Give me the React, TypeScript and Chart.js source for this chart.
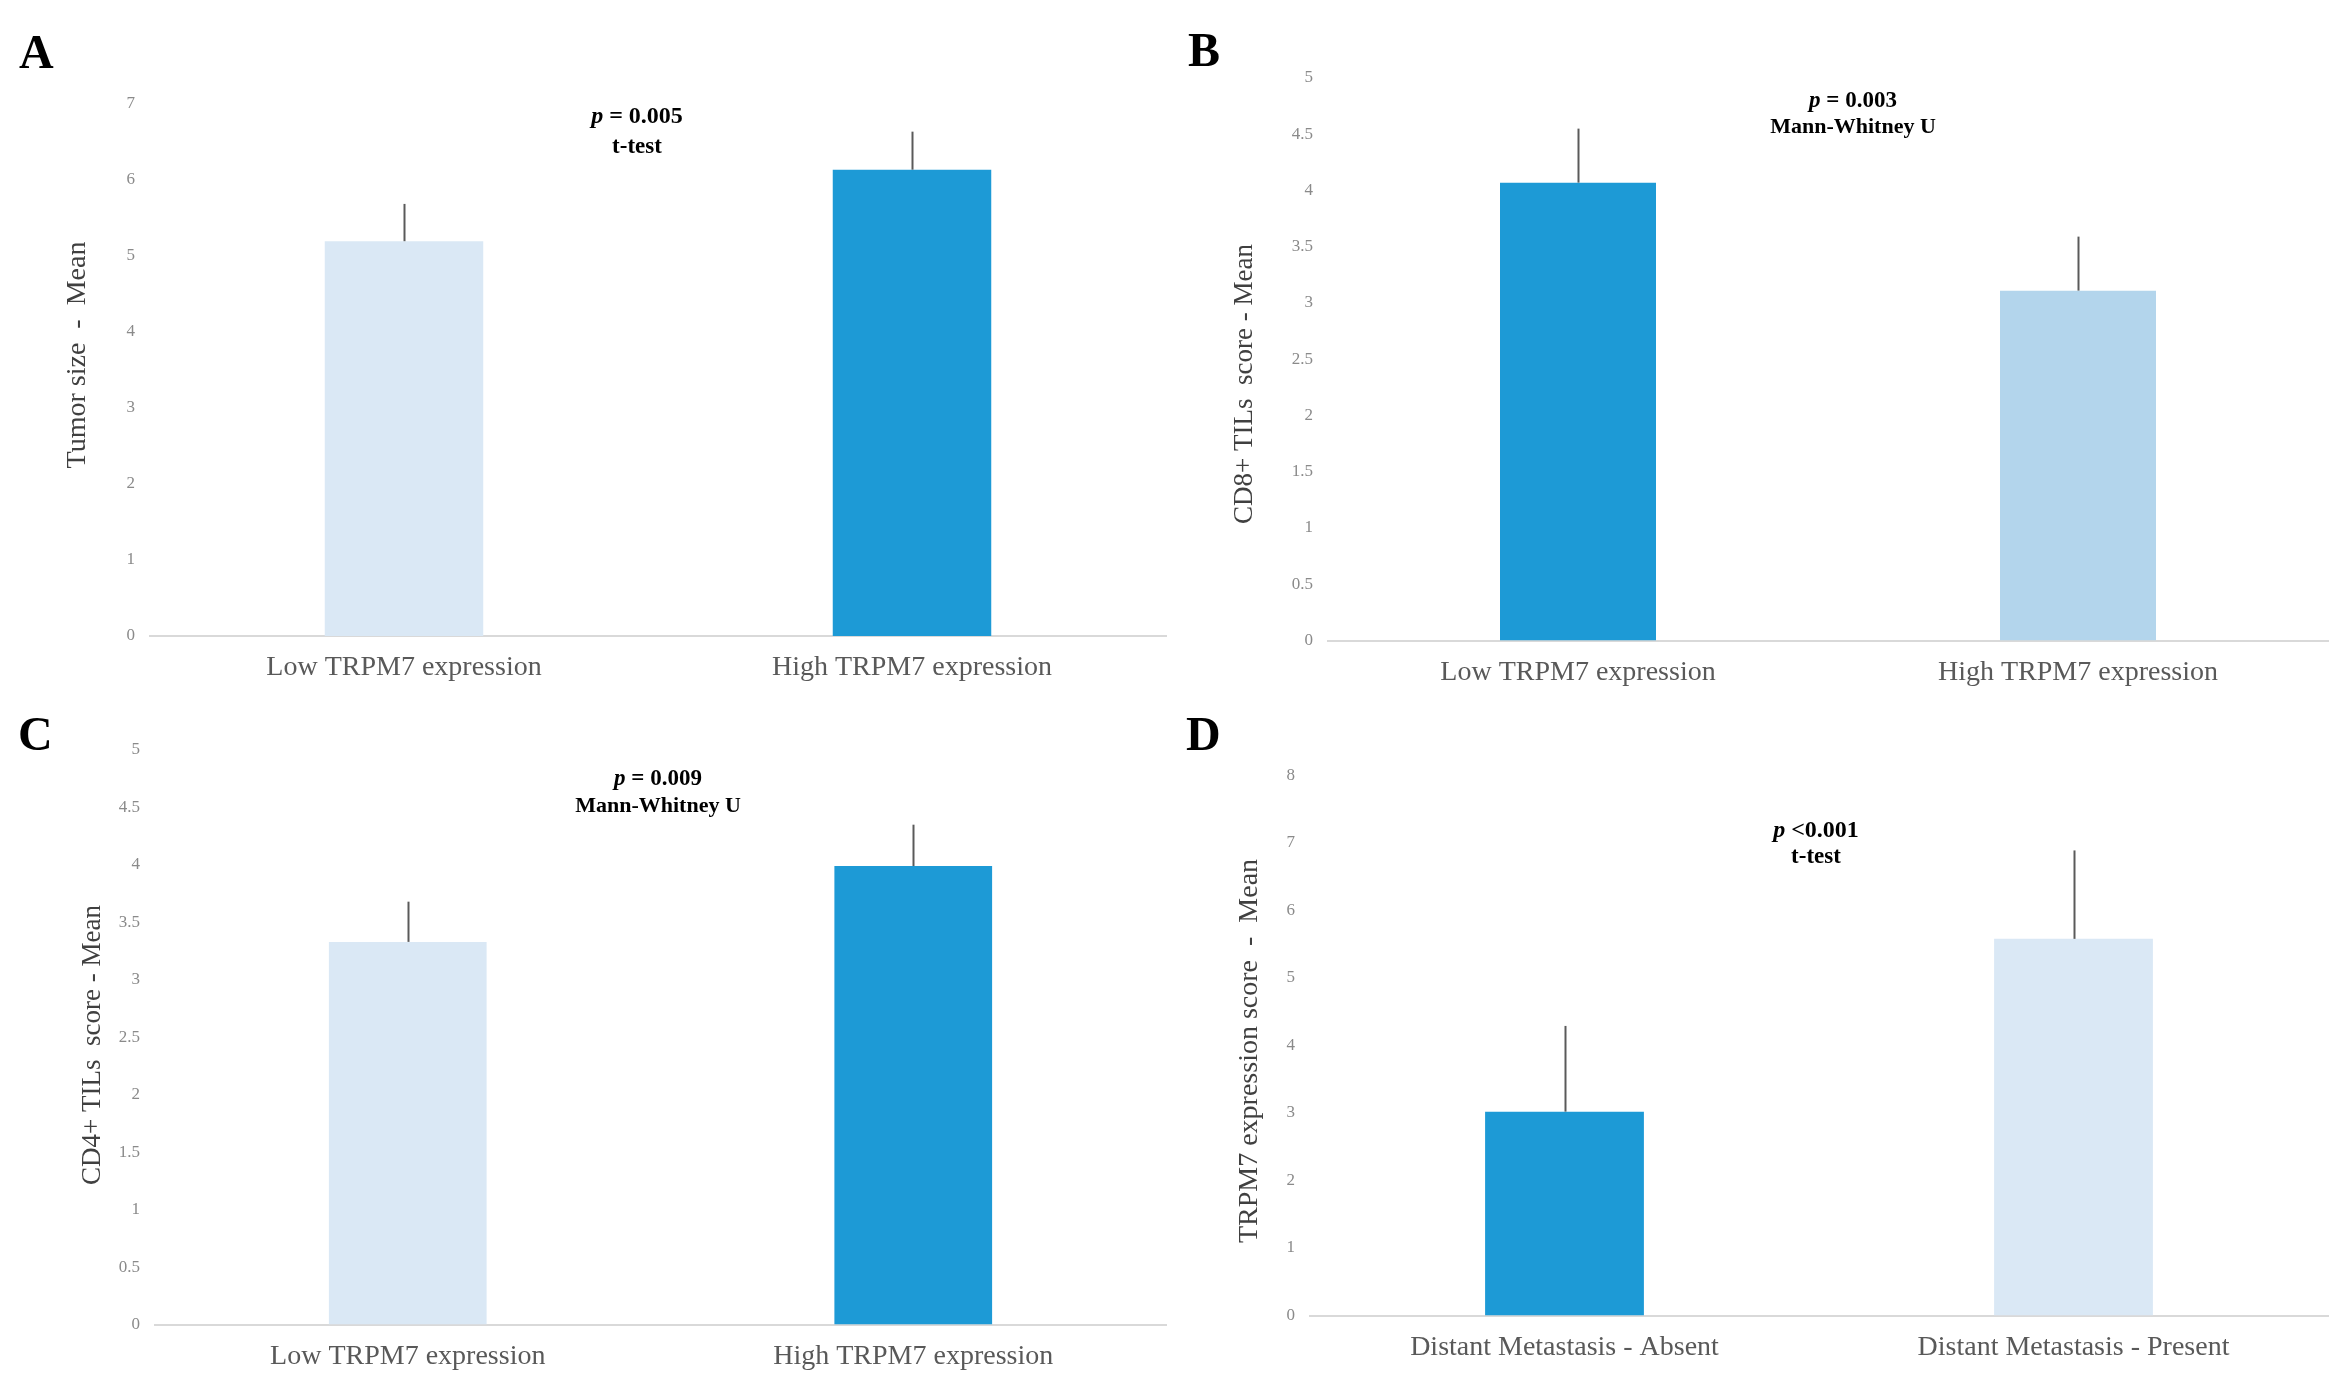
import React, { useEffect, useRef } from "react";
import { Chart, registerables } from "chart.js";

Chart.register(...registerables);

const FONT = "'Liberation Serif', 'Times New Roman', serif";

// ---------- data ----------
const trpm7Categories = ["Low TRPM7 expression", "High TRPM7 expression"];
const metastasisCategories = ["Distant Metastasis - Absent", "Distant Metastasis - Present"];

const tumorSizeMean = [5.19, 6.13];
const tumorSizeError = [0.49, 0.5];

const cd8Mean = [4.07, 3.11];
const cd8Error = [0.48, 0.48];

const cd4Mean = [3.33, 3.99];
const cd4Error = [0.35, 0.36];

const trpm7ScoreMean = [3.02, 5.58];
const trpm7ScoreError = [1.27, 1.31];

const yMaxes = [7, 5, 5, 8];
const ySteps = [1, 0.5, 0.5, 1];

const pValues = ["p = 0.005", "p = 0.003", "p = 0.009", "p <0.001"];
const testNames = ["t-test", "Mann-Whitney U", "Mann-Whitney U", "t-test"];
const yTitles = [
  "Tumor size  -  Mean",
  "CD8+ TILs  score - Mean",
  "CD4+ TILs  score - Mean",
  "TRPM7 expression score  -  Mean",
];
const panelLetters = ["A", "B", "C", "D"];

// ---------- colours ----------
const DARK = "#1D9AD6";
const LIGHT = "#DAE8F5";
const LIGHT_B = "#B3D5EC";

type PanelCfg = {
  letter: string;
  box: { left: number; top: number; width: number; height: number };
  area: { left: number; right: number; top: number; bottom: number };
  categories: string[];
  means: number[];
  errors: number[];
  colors: string[];
  yMax: number;
  yStep: number;
  yTitle: string;
  yTitlePos: { x: number; y: number; size: number };
  pValue: string;
  testName: string;
  annot: { x: number; y1: number; y2: number; size: number };
  letterPos: { x: number; y: number };
};

const panels: PanelCfg[] = [
  {
    letter: panelLetters[0],
    box: { left: 0, top: 0, width: 1175, height: 697 },
    area: { left: 150, right: 1166, top: 103.5, bottom: 636 },
    categories: trpm7Categories,
    means: tumorSizeMean,
    errors: tumorSizeError,
    colors: [LIGHT, DARK],
    yMax: yMaxes[0],
    yStep: ySteps[0],
    yTitle: yTitles[0],
    yTitlePos: { x: 78, y: 355, size: 28 },
    pValue: pValues[0],
    testName: testNames[0],
    annot: { x: 637, y1: 123, y2: 153, size: 24 },
    letterPos: { x: 19, y: 68 },
  },
  {
    letter: panelLetters[1],
    box: { left: 1175, top: 0, width: 1175, height: 697 },
    area: { left: 153, right: 1153, top: 78, bottom: 640.5 },
    categories: trpm7Categories,
    means: cd8Mean,
    errors: cd8Error,
    colors: [DARK, LIGHT_B],
    yMax: yMaxes[1],
    yStep: ySteps[1],
    yTitle: yTitles[1],
    yTitlePos: { x: 70, y: 384, size: 27 },
    pValue: pValues[1],
    testName: testNames[1],
    annot: { x: 678, y1: 107, y2: 133, size: 23 },
    letterPos: { x: 13, y: 66 },
  },
  {
    letter: panelLetters[2],
    box: { left: 0, top: 697, width: 1175, height: 696 },
    area: { left: 155, right: 1166, top: 53, bottom: 627.5 },
    categories: trpm7Categories,
    means: cd4Mean,
    errors: cd4Error,
    colors: [LIGHT, DARK],
    yMax: yMaxes[2],
    yStep: ySteps[2],
    yTitle: yTitles[2],
    yTitlePos: { x: 93, y: 348, size: 27 },
    pValue: pValues[2],
    testName: testNames[2],
    annot: { x: 658, y1: 88, y2: 115, size: 23 },
    letterPos: { x: 18, y: 53 },
  },
  {
    letter: panelLetters[3],
    box: { left: 1175, top: 697, width: 1175, height: 696 },
    area: { left: 135, right: 1153, top: 78.5, bottom: 618.5 },
    categories: metastasisCategories,
    means: trpm7ScoreMean,
    errors: trpm7ScoreError,
    colors: [DARK, LIGHT],
    yMax: yMaxes[3],
    yStep: ySteps[3],
    yTitle: yTitles[3],
    yTitlePos: { x: 75, y: 354, size: 28 },
    pValue: pValues[3],
    testName: testNames[3],
    annot: { x: 641, y1: 140, y2: 166, size: 24 },
    letterPos: { x: 11, y: 53 },
  },
];

// ---------- plugins ----------
const errorBarPlugin = {
  id: "errorBars",
  afterDatasetsDraw(chart: any, _args: any, opts: any) {
    const errors: number[] = opts.errors || [];
    const meta = chart.getDatasetMeta(0);
    const yScale = chart.scales.y;
    const values = chart.data.datasets[0].data as number[];
    const ctx = chart.ctx;
    ctx.save();
    ctx.strokeStyle = "#5a5a5a";
    ctx.lineWidth = 2;
    meta.data.forEach((bar: any, i: number) => {
      const v = values[i];
      const e = errors[i];
      const y0 = yScale.getPixelForValue(v);
      const y1 = yScale.getPixelForValue(v + e);
      const x = Math.round(bar.x) + 0.5;
      ctx.beginPath();
      ctx.moveTo(x, y0);
      ctx.lineTo(x, y1);
      ctx.stroke();
    });
    ctx.restore();
  },
};

const decorPlugin = {
  id: "decor",
  afterDraw(chart: any, _args: any, o: any) {
    const ctx = chart.ctx;
    ctx.save();
    // panel letter
    ctx.fillStyle = "#000000";
    ctx.font = `bold 48px ${FONT}`;
    ctx.textAlign = "left";
    ctx.textBaseline = "alphabetic";
    ctx.fillText(o.letter, o.letterPos.x, o.letterPos.y);

    // y title
    ctx.save();
    ctx.translate(o.yTitlePos.x, o.yTitlePos.y);
    ctx.rotate(-Math.PI / 2);
    ctx.font = `${o.yTitlePos.size}px ${FONT}`;
    ctx.fillStyle = "#404040";
    ctx.textAlign = "center";
    ctx.textBaseline = "middle";
    ctx.fillText(o.yTitle, 0, 0);
    ctx.restore();

    // annotation
    const size = o.annot.size;
    const pText: string = o.pValue;
    const rest = pText.slice(1);
    ctx.fillStyle = "#000000";
    ctx.textBaseline = "alphabetic";
    ctx.textAlign = "left";
    ctx.font = `italic bold ${size}px ${FONT}`;
    const wP = ctx.measureText("p").width;
    ctx.font = `bold ${size}px ${FONT}`;
    const wR = ctx.measureText(rest).width;
    const start = o.annot.x - (wP + wR) / 2;
    ctx.font = `italic bold ${size}px ${FONT}`;
    ctx.fillText("p", start, o.annot.y1);
    ctx.font = `bold ${size}px ${FONT}`;
    ctx.fillText(rest, start + wP, o.annot.y1);
    ctx.textAlign = "center";
    ctx.font = `bold ${size - 1}px ${FONT}`;
    ctx.fillText(o.testName, o.annot.x, o.annot.y2);
    ctx.restore();
  },
};

function Panel({ cfg }: { cfg: PanelCfg }) {
  const ref = useRef<HTMLCanvasElement | null>(null);
  useEffect(() => {
    if (!ref.current) return;
    const chart = new Chart(ref.current, {
      type: "bar",
      data: {
        labels: cfg.categories,
        datasets: [
          {
            data: cfg.means,
            backgroundColor: cfg.colors,
            borderWidth: 0,
            barPercentage: 0.312,
            categoryPercentage: 1,
          },
        ],
      },
      options: {
        animation: false,
        responsive: false,
        devicePixelRatio: 1,
        layout: {
          padding: {
            left: 0,
            top: cfg.area.top,
            right: cfg.box.width - cfg.area.right,
            bottom: 0,
          },
        },
        plugins: {
          legend: { display: false },
          tooltip: { enabled: false },
          errorBars: { errors: cfg.errors },
          decor: {
            letter: cfg.letter,
            letterPos: cfg.letterPos,
            yTitle: cfg.yTitle,
            yTitlePos: cfg.yTitlePos,
            pValue: cfg.pValue,
            testName: cfg.testName,
            annot: cfg.annot,
          },
        } as any,
        scales: {
          x: {
            grid: { display: false, drawTicks: false },
            border: { display: true, color: "#d9d9d9", width: 2 },
            ticks: {
              color: "#595959",
              font: { family: FONT, size: 28 },
              padding: 15,
              maxRotation: 0,
              autoSkip: false,
            },
            afterFit(scale: any) {
              scale.height = cfg.box.height - cfg.area.bottom;
            },
          },
          y: {
            min: 0,
            max: cfg.yMax,
            grid: { display: false, drawTicks: false },
            border: { display: false },
            ticks: {
              stepSize: cfg.yStep,
              color: "#8a8a8a",
              font: { family: FONT, size: 17 },
              padding: 15,
              callback: (v: any) => String(Math.round(Number(v) * 100) / 100),
            },
            afterFit(scale: any) {
              scale.width = cfg.area.left;
            },
          },
        },
      },
      plugins: [errorBarPlugin, decorPlugin],
    } as any);
    return () => chart.destroy();
  }, [cfg]);
  return (
    <canvas
      ref={ref}
      width={cfg.box.width}
      height={cfg.box.height}
      style={{
        position: "absolute",
        left: cfg.box.left,
        top: cfg.box.top,
        width: cfg.box.width,
        height: cfg.box.height,
      }}
    />
  );
}

export default function App() {
  return (
    <div
      style={{
        position: "absolute",
        left: 0,
        top: 0,
        width: 2350,
        height: 1393,
        background: "#ffffff",
        overflow: "hidden",
      }}
    >
      {panels.map((p) => (
        <Panel key={p.letter} cfg={p} />
      ))}
    </div>
  );
}
